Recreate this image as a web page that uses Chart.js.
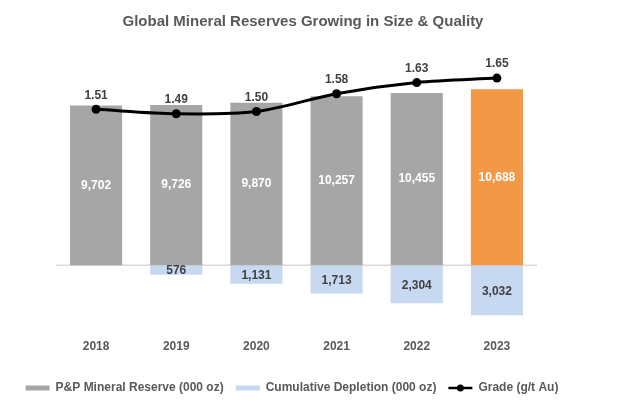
<!DOCTYPE html>
<html><head><meta charset="utf-8">
<script src="https://cdn.jsdelivr.net/npm/chart.js@4.4.0/dist/chart.umd.min.js"></script>
<style>html,body{margin:0;padding:0;background:#fff}#wrap{width:640px;height:420px;position:relative}</style>
</head><body><div id="wrap"><canvas id="c"></canvas></div>
<script>
const years = ['2018','2019','2020','2021','2022','2023'];
const reserves = [9702, 9726, 9870, 10257, 10455, 10688];
const depletion = [null, 576, 1131, 1713, 2304, 3032];
const grade = [1.51, 1.49, 1.50, 1.58, 1.63, 1.65];
const seriesNames = ['P&P Mineral Reserve (000 oz)', 'Cumulative Depletion (000 oz)', 'Grade (g/t Au)'];
const titleText = 'Global Mineral Reserves Growing in Size & Quality';

const GRAY = '#A6A6A6', BLUE = '#C6D9F1', ORANGE = '#F39847', TXT = '#404040', LBL = '#595959';
const FONT = '"Liberation Sans", Arial, sans-serif';
const fmt = v => v.toLocaleString('en-US');

const labelPlugin = {
  id: 'lbl',
  beforeDatasetsDraw(chart) {
    const y = chart.scales.y.getPixelForValue(0);
    const a = chart.chartArea, ctx = chart.ctx;
    ctx.save();
    ctx.strokeStyle = '#D9D9D9';
    ctx.lineWidth = 1.5;
    ctx.beginPath();
    ctx.moveTo(a.left, y);
    ctx.lineTo(a.right, y);
    ctx.stroke();
    ctx.restore();
  },
  afterDatasetsDraw(chart) {
    const ctx = chart.ctx;
    ctx.save();
    ctx.textAlign = 'center';
    ctx.textBaseline = 'middle';
    ctx.font = 'bold 12px ' + FONT;
    chart.getDatasetMeta(0).data.forEach((el, i) => {
      ctx.fillStyle = '#FFFFFF';
      ctx.fillText(fmt(reserves[i]), el.x, (el.y + el.base) / 2);
    });
    chart.getDatasetMeta(1).data.forEach((el, i) => {
      if (depletion[i] == null) return;
      ctx.fillStyle = TXT;
      ctx.fillText(fmt(depletion[i]), el.x, (el.y + el.base) / 2 + 1);
    });
    chart.getDatasetMeta(2).data.forEach((el, i) => {
      ctx.fillStyle = TXT;
      ctx.fillText(grade[i].toFixed(2), el.x, el.y - 14);
    });
    ctx.restore();
  },
  afterDraw(chart) {
    const ctx = chart.ctx;
    ctx.save();
    ctx.textAlign = 'center';
    ctx.textBaseline = 'middle';
    ctx.font = 'bold 15px ' + FONT;
    ctx.fillStyle = LBL;
    ctx.fillText(titleText, 303, 22);
    ctx.restore();
    const hb = chart.legend && chart.legend.legendHitBoxes && chart.legend.legendHitBoxes[2];
    if (!hb) return;
    const bw = chart.options.plugins.legend.labels.boxWidth;
    const cy = hb.top + hb.height / 2;
    ctx.save();
    ctx.strokeStyle = '#000';
    ctx.lineWidth = 2.5;
    ctx.beginPath();
    ctx.moveTo(hb.left, cy);
    ctx.lineTo(hb.left + bw, cy);
    ctx.stroke();
    ctx.fillStyle = '#000';
    ctx.beginPath();
    ctx.arc(hb.left + bw / 2, cy, 3.5, 0, Math.PI * 2);
    ctx.fill();
    ctx.restore();
  }
};

new Chart(document.getElementById('c'), {
  data: {
    labels: years,
    datasets: [
      {
        type: 'bar', label: seriesNames[0], data: reserves, stack: 's', order: 1,
        backgroundColor: reserves.map((v, i) => i === reserves.length - 1 ? ORANGE : GRAY),
        borderWidth: 0, barPercentage: 0.65, categoryPercentage: 1.0
      },
      {
        type: 'bar', label: seriesNames[1], data: depletion.map(v => v == null ? null : -v), stack: 's', order: 1,
        backgroundColor: BLUE, borderWidth: 0, barPercentage: 0.65, categoryPercentage: 1.0
      },
      {
        type: 'line', label: seriesNames[2], data: grade, yAxisID: 'y2', order: 0,
        borderColor: '#000', backgroundColor: '#000', borderWidth: 3, tension: 0.3,
        pointRadius: 4.5, pointBackgroundColor: '#000', pointBorderWidth: 0
      }
    ]
  },
  options: {
    responsive: true, maintainAspectRatio: false, animation: false,
    layout: { padding: { left: 10, right: 66, top: 60, bottom: 16 } },
    scales: {
      x: {
        stacked: true,
        grid: { display: false, drawTicks: false }, border: { display: false },
        ticks: { color: LBL, font: { family: FONT, size: 12, weight: 'bold' }, padding: 8 },
        afterFit(s) { s.height += 8; }
      },
      y: {
        stacked: true, position: 'left', min: -4030, max: 12460,
        ticks: { display: false }, grid: { display: false, drawTicks: false }, border: { display: false },
        afterFit(s) { s.width = 46; }
      },
      y2: {
        position: 'right', min: 0.5118, max: 1.7313,
        ticks: { display: false }, grid: { display: false, drawTicks: false }, border: { display: false },
        afterFit(s) { s.width = 37; }
      }
    },
    plugins: {
      title: { display: false },
      legend: {
        display: true, position: 'bottom',
        labels: {
          color: LBL, font: { family: FONT, size: 12, weight: 'bold' },
          boxWidth: 24, boxHeight: 5, padding: 12,
          generateLabels: (chart) => chart.data.datasets.map((ds, i) => ({
            text: ds.label, datasetIndex: i, hidden: false, lineWidth: 0,
            strokeStyle: 'rgba(0,0,0,0)', fontColor: LBL,
            fillStyle: i === 0 ? GRAY : i === 1 ? BLUE : 'rgba(0,0,0,0)'
          }))
        }
      },
      tooltip: { enabled: false }
    }
  },
  plugins: [labelPlugin]
});
</script>
</body></html>
